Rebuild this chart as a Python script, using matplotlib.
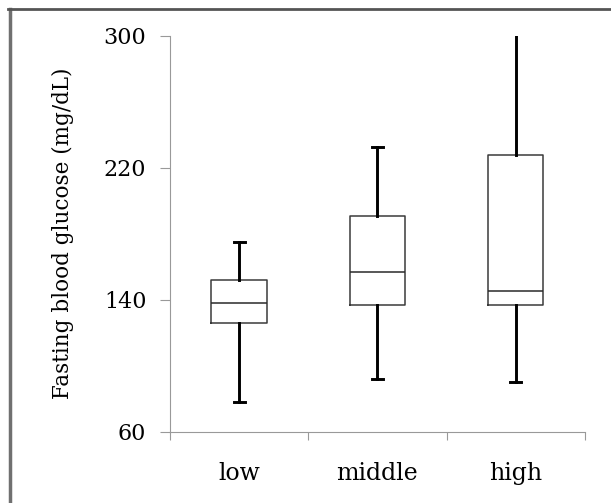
import matplotlib
matplotlib.use("Agg")
import matplotlib.pyplot as plt
from matplotlib.lines import Line2D

categories = ["low", "middle", "high"]
whisker_low = [78, 92, 90]
q1 = [126, 137, 136.5]
median = [138, 157, 145]
q3 = [152, 190.5, 228]
whisker_high = [175, 232.5, 300]
y_ticks = [60, 140, 220, 300]

plt.rcParams['font.family'] = ['DejaVu Serif']

fig = plt.figure(figsize=(6.11, 5.03), dpi=100)
ax = fig.add_axes([0.2782, 0.1417, 0.9574 - 0.2782, 0.929 - 0.1417])

stats = []
for i, c in enumerate(categories):
    stats.append(dict(label=c, whislo=whisker_low[i], q1=q1[i], med=median[i],
                      q3=q3[i], whishi=whisker_high[i], fliers=[]))

positions = [1, 2, 3]
bp = ax.bxp(stats, positions=positions, widths=0.4, showfliers=False,
            capwidths=0.08,
            boxprops=dict(color='#3a3a3a', linewidth=1.1),
            medianprops=dict(color='#2a2a2a', linewidth=1.1),
            whiskerprops=dict(color='black', linewidth=2.1),
            capprops=dict(color='black', linewidth=2.1))
# top whisker of "high" reaches the axis top without a visible cap
bp['caps'][5].set_visible(False)

ax.set_xlim(0.5, 3.5)
ax.set_ylim(60, 300)
ax.set_yticks(y_ticks)
ax.set_yticklabels([str(v) for v in y_ticks], fontsize=16)

ax.set_xticks([0.5, 1.5, 2.5, 3.5])
ax.set_xticklabels([])
ax.set_xticks(positions, minor=True)
ax.set_xticklabels(categories, minor=True, fontsize=17)
ax.tick_params(axis='x', which='major', direction='out', length=6, width=0.8, color='#999999')
ax.tick_params(axis='x', which='minor', length=0, pad=22)
ax.tick_params(axis='y', direction='out', length=7, width=0.8, color='#999999', pad=10)

for s in ['top', 'right']:
    ax.spines[s].set_visible(False)
for s in ['left', 'bottom']:
    ax.spines[s].set_color('#999999')
    ax.spines[s].set_linewidth(0.8)

ax.set_ylabel("Fasting blood glucose (mg/dL)", fontsize=15.5, labelpad=21)

# figure frame (gray border on top and left)
fig.add_artist(Line2D([9.5/611, 9.5/611], [0, 1 - 9/503], transform=fig.transFigure,
                      color='#707070', linewidth=2.5))
fig.add_artist(Line2D([8/611, 1], [1 - 9/503, 1 - 9/503], transform=fig.transFigure,
                      color='#555555', linewidth=2.0))

fig.savefig("out.png", dpi=100)
